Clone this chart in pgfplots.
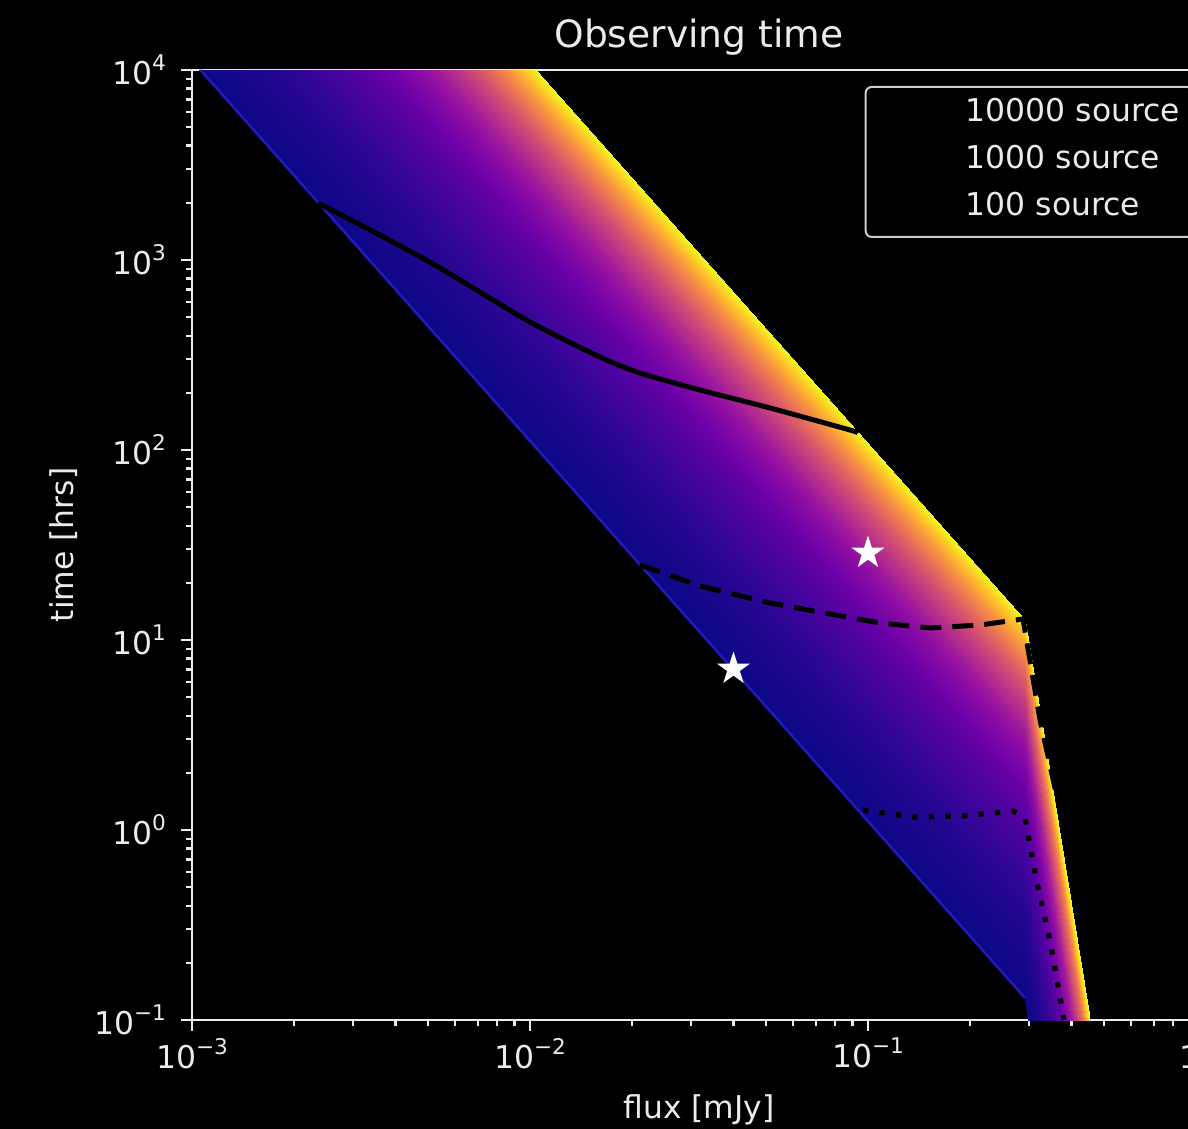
\documentclass[border=0pt]{standalone}
\usepackage{pgfplots}
\pgfplotsset{compat=1.18}
\usepackage{fontspec}
\setmainfont{DejaVu Sans}
\usetikzlibrary{backgrounds}

\pgfdeclareplotmark{fstar}{%
  \pgfpathmoveto{\pgfqpointpolar{90}{\pgfplotmarksize}}%
  \pgfpathlineto{\pgfqpointpolar{126}{0.382\pgfplotmarksize}}%
  \pgfpathlineto{\pgfqpointpolar{162}{\pgfplotmarksize}}%
  \pgfpathlineto{\pgfqpointpolar{198}{0.382\pgfplotmarksize}}%
  \pgfpathlineto{\pgfqpointpolar{234}{\pgfplotmarksize}}%
  \pgfpathlineto{\pgfqpointpolar{270}{0.382\pgfplotmarksize}}%
  \pgfpathlineto{\pgfqpointpolar{306}{\pgfplotmarksize}}%
  \pgfpathlineto{\pgfqpointpolar{342}{0.382\pgfplotmarksize}}%
  \pgfpathlineto{\pgfqpointpolar{18}{\pgfplotmarksize}}%
  \pgfpathlineto{\pgfqpointpolar{54}{0.382\pgfplotmarksize}}%
  \pgfpathclose
  \pgfusepathqfill
}

\pgfplotsset{colormap={plasma}{rgb255=(13,8,135) rgb255=(65,4,157) rgb255=(106,0,168) rgb255=(143,13,164) rgb255=(177,42,144) rgb255=(204,71,120) rgb255=(225,100,98) rgb255=(242,132,75) rgb255=(252,166,54) rgb255=(252,206,37) rgb255=(240,249,33)}}

\newcommand{\lblfont}{\fontsize{15.7}{18.8}\selectfont}
\newcommand{\tl}[1]{10\raisebox{7pt}{\fontsize{10.8}{11}\selectfont #1}}
\definecolor{edgeblue}{RGB}{34,26,190}

\begin{document}
\begin{tikzpicture}[show background rectangle, background rectangle/.style={fill=black, draw=none}, inner frame sep=0pt]
\begin{axis}[
  scale only axis, width=507pt, height=475pt,
  xmode=log, ymode=log,
  xmin=1e-3, xmax=1, ymin=1e-1, ymax=1e4,
  colormap name=plasma,
  point meta min=0, point meta max=1,
  axis line style={white!92!black, line width=1.1pt},
  tick style={white!92!black, line width=1.1pt},
  major tick length=5.5pt, minor tick length=3.1pt,
  tick align=outside, tick pos=left,
  xtick={1e-3,1e-2,1e-1,1},
  xticklabels={\tl{−3},\tl{−2},\tl{−1},\tl{0}},
  ytick={1e-1,1,10,100,1000,10000},
  yticklabels={\tl{−1},\tl{0},\tl{1},\tl{2},\tl{3},\tl{4}},
  minor xtick={2e-3,3e-3,4e-3,5e-3,6e-3,7e-3,8e-3,9e-3,2e-2,3e-2,4e-2,5e-2,6e-2,7e-2,8e-2,9e-2,0.2,0.3,0.4,0.5,0.6,0.7,0.8,0.9},
  minor ytick={0.2,0.3,0.4,0.5,0.6,0.7,0.8,0.9,2,3,4,5,6,7,8,9,20,30,40,50,60,70,80,90,200,300,400,500,600,700,800,900,2000,3000,4000,5000,6000,7000,8000,9000},
  tick label style={text=white!92!black, font=\lblfont},
  yticklabel style={xshift=-4pt},
  every axis title shift=0pt,
  title={Observing time},
  title style={text=white!92!black, font=\fontsize{18.8}{22}\selectfont, at={(axis description cs:0.5,1.0232)}, anchor=base},
  xlabel={flux [mJy]},
  xlabel style={text=white!92!black, font=\lblfont, at={(axis description cs:0.5,-0.1032)}, anchor=base},
  ylabel={time [hrs]},
  ylabel style={text=white!92!black, font=\lblfont, at={(axis description cs:-0.1173,0.5)}, anchor=base},
  legend cell align=left,
  legend image code/.code={\draw[#1] (0pt,0pt) -- (31pt,0pt);},
  legend style={at={(axis description cs:0.9882,0.9832)}, anchor=north east,
    draw=white!80!black, fill=black, text=white!92!black, rounded corners=3pt, line width=1pt,
    font=\lblfont, inner xsep=6.5pt, inner ysep=6pt, row sep=7.5pt, column sep=10pt,
    nodes={inner sep=0pt, text height=11.5pt, text depth=4.5pt}},
]
\coordinate (BL) at (rel axis cs:0,0);
\coordinate (TR) at (rel axis cs:1,1);

% fan of curves: columns = flux, time, colour index of the curve
\addplot[surf, shader=interp, point meta=explicit, forget plot] table[x=s, y=t, meta=c] {
s t c
0.0010488 10000 0
0.2913 0.12964 0
0.29826 0.1 0

0.0011832 10000 0.0086
0.2913 0.16499 0.0086
0.30487 0.1 0.0086

0.0013416 10000 0.0190
0.2913 0.21213 0.0190
0.31191 0.1 0.0190

0.0015166 10000 0.0307
0.2913 0.27106 0.0307
0.31894 0.1 0.0307

0.0017321 10000 0.0454
0.2913 0.35355 0.0454
0.32674 0.1 0.0454

0.0019494 10000 0.0608
0.2913 0.44783 0.0608
0.33384 0.1 0.0608

0.0022136 10000 0.0801
0.2913 0.57747 0.0801
0.34164 0.1 0.0801

0.0025100 10000 0.1025
0.2913 0.74246 0.1025
0.34953 0.1 0.1025

0.0028284 10000 0.1275
0.2913 0.94280 0.1275
0.35721 0.1 0.1275

0.0031623 10000 0.1547
0.2913 1.1785 0.1547
0.36453 0.1 0.1547

0.0036056 10000 0.1925
0.2913 1.5321 0.1925
0.37333 0.1 0.1925

0.0041231 10000 0.2389
0.2913 2.0035 0.2389
0.38255 0.1 0.2389

0.0046904 10000 0.2926
0.2913 2.5927 0.2926
0.39162 0.1 0.2926

0.0052915 10000 0.3529
0.2913 3.2998 0.3529
0.40030 0.1 0.3529

0.0060000 10000 0.4282
0.2913 4.2426 0.4282
0.40955 0.1 0.4282

0.0067823 10000 0.5168
0.2913 5.4211 0.5168
0.41878 0.1 0.5168

0.0076811 10000 0.6257
0.2913 6.9532 0.6257
0.42836 0.1 0.6257

0.0086603 10000 0.7530
0.2913 8.8388 0.7530
0.43781 0.1 0.7530

0.0095917 10000 0.8823
0.2913 10.842 0.8823
0.44602 0.1 0.8823

0.0103923 10000 1
0.2913 12.728 1
0.45255 0.1 1
};

% brighter lowest curve along the lower edge
\addplot[edgeblue, line width=1.2pt, forget plot] coordinates {(0.00106,10000) (0.2905,0.1315)};

\addplot[black, line width=2.5pt, smooth, tension=0.4] coordinates {
(0.002359,1995) (0.003598,1353) (0.005417,907.7) (0.01,471.8) (0.01611,308.7) (0.02115,254.2) (0.03184,206.9) (0.0513,166.4) (0.08844,127.4) (0.09342,122.9)};
\addlegendentry{10000 source}

\addplot[black, line width=2.5pt, dash pattern=on 10.5pt off 5.5pt] coordinates {
(0.02115,24.81) (0.03184,19.24) (0.0513,15.66) (0.07718,13.70) (0.1085,12.29) (0.1526,11.57) (0.2145,11.99) (0.2875,12.90) (0.3228,3.793) (0.375,1.129) (0.4858,0.1)};
\addlegendentry{1000 source}

\addplot[black, line width=2.6pt, dash pattern=on 2.6pt off 5.7pt] coordinates {
(0.09665,1.274) (0.1358,1.170) (0.1910,1.185) (0.2685,1.259) (0.2913,1.157) (0.3162,0.5263) (0.3455,0.2637) (0.3801,0.1)};
\addlegendentry{100 source}

\addplot[only marks, mark=fstar, mark size=8.7pt, white, forget plot] coordinates {(0.1,28.7) (0.04,7.04)};
\end{axis}
\pgfresetboundingbox
\path[use as bounding box] ([xshift=-96pt,yshift=-54.5pt]BL) rectangle ([xshift=-9pt,yshift=35pt]TR);
\end{tikzpicture}
\end{document}
